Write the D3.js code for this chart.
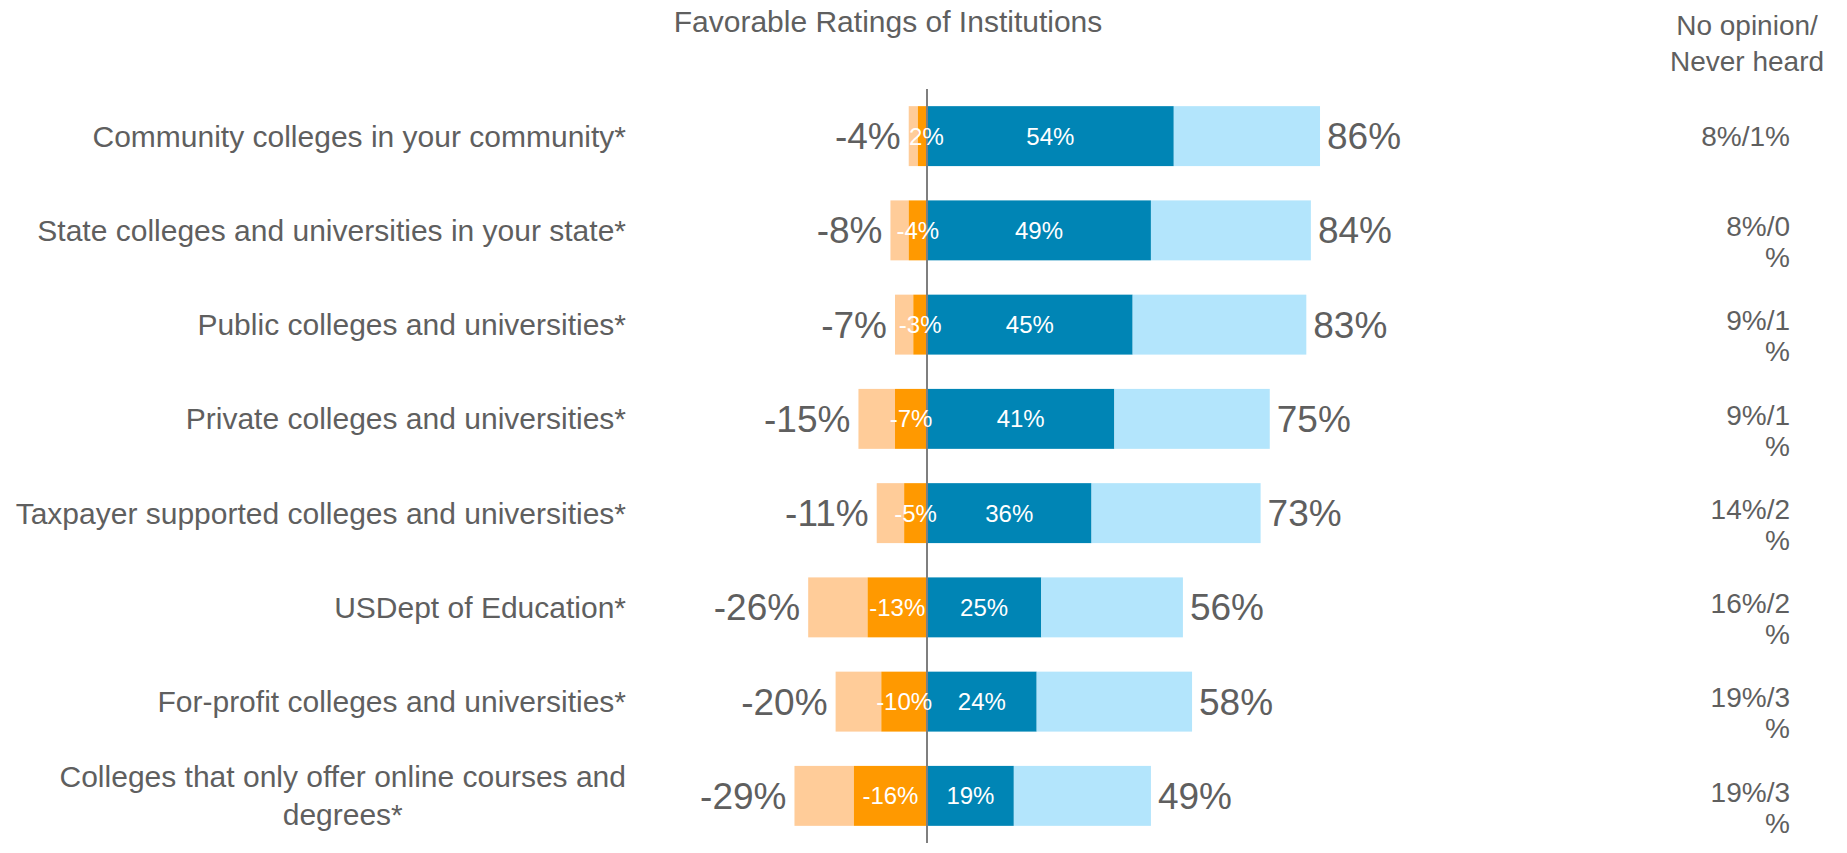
<!DOCTYPE html>
<html>
<head>
<meta charset="utf-8">
<script src="https://cdn.jsdelivr.net/npm/d3@7"></script>
<style>
  html, body { margin: 0; padding: 0; background: #ffffff; }
  svg { display: block; font-family: "Liberation Sans", Arial, sans-serif; }
</style>
</head>
<body>
<svg id="chart" width="1847" height="853"></svg>
<script>
// ---- Data ----
const title = "Favorable Ratings of Institutions";
const sideHeader = ["No opinion/", "Never heard"];
const categories = [
  "Community colleges in your community*",
  "State colleges and universities in your state*",
  "Public colleges and universities*",
  "Private colleges and universities*",
  "Taxpayer supported colleges and universities*",
  "USDept of Education*",
  "For-profit colleges and universities*",
  "Colleges that only offer online courses and degrees*"
];
const strongFavorable = [54, 49, 45, 41, 36, 25, 24, 19];
const totalFavorable = [86, 84, 83, 75, 73, 56, 58, 49];
const strongUnfavorable = [-2, -4, -3, -7, -5, -13, -10, -16];
const totalUnfavorable = [-4, -8, -7, -15, -11, -26, -20, -29];
const noOpinion = [8, 8, 9, 9, 14, 16, 19, 19];
const neverHeard = [1, 0, 1, 1, 2, 2, 3, 3];

// ---- Styles ----
const colors = {
  lightOrange: "#FFCC99",
  darkOrange: "#FF9900",
  darkBlue: "#0085B5",
  lightBlue: "#B3E5FC",
  text: "#5f5f5f",
  axis: "#7f7f7f"
};

const svg = d3.select("#chart");

const x = d3.scaleLinear().domain([0, 100]).range([927, 1384]);
const y = d3.scaleBand()
  .domain(categories)
  .range([89, 843])
  .paddingInner(0.364)
  .paddingOuter(0.182);
const bw = y.bandwidth();
const cy = c => y(c) + bw / 2;

const rows = categories.map((c, i) => ({
  cat: c, i,
  sf: strongFavorable[i], tf: totalFavorable[i],
  su: strongUnfavorable[i], tu: totalUnfavorable[i],
  no: noOpinion[i], nh: neverHeard[i]
}));

// Title
svg.append("text")
  .attr("x", 888).attr("y", 32)
  .attr("text-anchor", "middle")
  .attr("font-size", 30)
  .attr("fill", colors.text)
  .text(title);

// Side header
svg.selectAll("text.side-head").data(sideHeader).join("text")
  .attr("class", "side-head")
  .attr("x", 1747).attr("y", (d, i) => 35 + i * 36)
  .attr("text-anchor", "middle")
  .attr("font-size", 28)
  .attr("fill", colors.text)
  .text(d => d);

// Bars
const g = svg.append("g");
const segs = [];
rows.forEach(r => {
  segs.push({ r, x0: r.tu, x1: r.su, color: colors.lightOrange });
  segs.push({ r, x0: r.su, x1: 0, color: colors.darkOrange });
  segs.push({ r, x0: 0, x1: r.sf, color: colors.darkBlue });
  segs.push({ r, x0: r.sf, x1: r.tf, color: colors.lightBlue });
});
g.selectAll("rect").data(segs).join("rect")
  .attr("x", d => x(Math.min(d.x0, d.x1)))
  .attr("width", d => Math.abs(x(d.x1) - x(d.x0)))
  .attr("y", d => y(d.r.cat))
  .attr("height", bw)
  .attr("fill", d => d.color);

// Zero line
svg.append("line")
  .attr("x1", x(0)).attr("x2", x(0))
  .attr("y1", y.range()[0]).attr("y2", y.range()[1])
  .attr("stroke", colors.axis)
  .attr("stroke-width", 2);

// Inner labels
svg.selectAll("text.in-neg").data(rows).join("text")
  .attr("class", "in-neg")
  .attr("x", d => x(d.su / 2))
  .attr("y", d => cy(d.cat))
  .attr("dy", "0.35em")
  .attr("text-anchor", "middle")
  .attr("font-size", 24)
  .attr("fill", "#ffffff")
  .text(d => d.su + "%");

svg.selectAll("text.in-pos").data(rows).join("text")
  .attr("class", "in-pos")
  .attr("x", d => x(d.sf / 2))
  .attr("y", d => cy(d.cat))
  .attr("dy", "0.35em")
  .attr("text-anchor", "middle")
  .attr("font-size", 24)
  .attr("fill", "#ffffff")
  .text(d => d.sf + "%");

// Totals
svg.selectAll("text.tot-neg").data(rows).join("text")
  .attr("class", "tot-neg")
  .attr("x", d => x(d.tu) - 8)
  .attr("y", d => cy(d.cat))
  .attr("dy", "0.35em")
  .attr("text-anchor", "end")
  .attr("font-size", 37)
  .attr("fill", colors.text)
  .text(d => d.tu + "%");

svg.selectAll("text.tot-pos").data(rows).join("text")
  .attr("class", "tot-pos")
  .attr("x", d => x(d.tf) + 7)
  .attr("y", d => cy(d.cat))
  .attr("dy", "0.35em")
  .attr("text-anchor", "start")
  .attr("font-size", 37)
  .attr("fill", colors.text)
  .text(d => d.tf + "%");

// Category labels
const labelRight = 626;
rows.forEach(r => {
  const words = r.cat.split(" ");
  const t = svg.append("text")
    .attr("x", labelRight)
    .attr("y", cy(r.cat))
    .attr("dy", "0.35em")
    .attr("text-anchor", "end")
    .attr("font-size", 30)
    .attr("fill", colors.text)
    .text(r.cat);
  if (t.node().getComputedTextLength() > labelRight - 5) {
    // wrap last word onto second line, centered under the first
    const first = words.slice(0, -1).join(" ");
    const last = words[words.length - 1];
    t.text(first).attr("y", cy(r.cat) - 19);
    const w = t.node().getComputedTextLength();
    svg.append("text")
      .attr("x", labelRight - w / 2)
      .attr("y", cy(r.cat) + 19)
      .attr("dy", "0.35em")
      .attr("text-anchor", "middle")
      .attr("font-size", 30)
      .attr("fill", colors.text)
      .text(last);
  }
});

// No opinion / never heard column
rows.forEach((r, i) => {
  const full = r.no + "%/" + r.nh + "%";
  if (i === 0) {
    svg.append("text")
      .attr("x", 1790).attr("y", cy(r.cat)).attr("dy", "0.35em")
      .attr("text-anchor", "end").attr("font-size", 28)
      .attr("fill", colors.text).text(full);
  } else {
    const parts = [r.no + "%/" + r.nh, "%"];
    parts.forEach((p, k) => {
      svg.append("text")
        .attr("x", 1790).attr("y", cy(r.cat) - 4 + k * 31).attr("dy", "0.35em")
        .attr("text-anchor", "end").attr("font-size", 28)
        .attr("fill", colors.text).text(p);
    });
  }
});
</script>
</body>
</html>
